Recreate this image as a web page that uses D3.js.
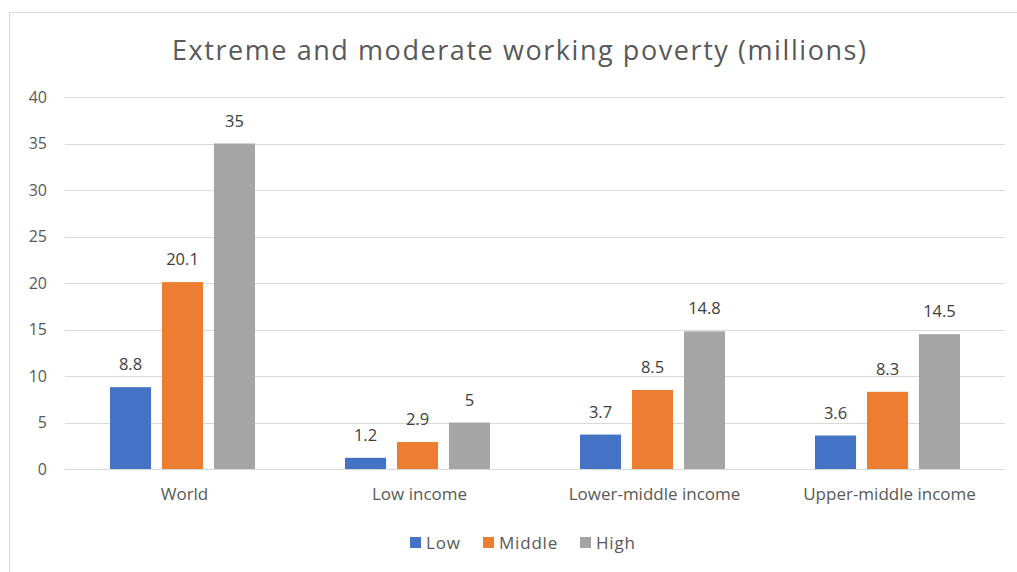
<!DOCTYPE html>
<html>
<head>
<meta charset="utf-8">
<script src="https://cdn.jsdelivr.net/npm/d3@7"></script>
<style>
  body { margin: 0; background: #fff; }
  text { font-family: "Open Sans", "Noto Sans", sans-serif; }
</style>
</head>
<body>
<div id="chart"></div>
<script>
// Data
var categories = ["World", "Low income", "Lower-middle income", "Upper-middle income"];
var seriesNames = ["Low", "Middle", "High"];
var lowValues = [8.8, 1.2, 3.7, 3.6];
var middleValues = [20.1, 2.9, 8.5, 8.3];
var highValues = [35, 5, 14.8, 14.5];
var yTicks = [0, 5, 10, 15, 20, 25, 30, 35, 40];
var colors = ["#4472c4", "#ed7d31", "#a5a5a5"];

var seriesValues = [lowValues, middleValues, highValues];

var W = 1017, H = 572;
var margin = {top: 97, right: 12, bottom: 103, left: 65};
var width = 1005 - margin.left;
var height = 469 - margin.top;

var svg = d3.select("#chart")
    .append("svg")
    .attr("width", W)
    .attr("height", H);

// chart border
svg.append("rect")
  .attr("x", 9.5)
  .attr("y", 12.5)
  .attr("width", W + 10)
  .attr("height", H)
  .attr("fill", "none")
  .attr("stroke", "#d9d9d9");

var g = svg.append("g")
    .attr("transform", `translate(${margin.left}, ${margin.top})`);

// Scales
var x0 = d3.scaleBand()
    .domain(categories)
    .range([0, width])
    .padding(0);

var groupPad = 45;
var x1 = d3.scaleBand()
    .domain(seriesNames)
    .range([groupPad, x0.bandwidth() - groupPad])
    .paddingInner(0.21);

var y = d3.scaleLinear()
    .domain([0, 40])
    .range([height, 0]);

// Gridlines
g.selectAll(".grid")
  .data(yTicks)
  .enter().append("line")
  .attr("x1", 0)
  .attr("x2", width)
  .attr("y1", function(d) { return Math.round(y(d)) + 0.5; })
  .attr("y2", function(d) { return Math.round(y(d)) + 0.5; })
  .attr("stroke", "#d9d9d9")
  .attr("stroke-width", 1);

// Y axis labels
g.selectAll(".ylab")
  .data(yTicks)
  .enter().append("text")
  .attr("x", -18)
  .attr("y", function(d) { return y(d); })
  .attr("dy", "0.35em")
  .attr("text-anchor", "end")
  .attr("fill", "#595959")
  .style("font-size", "16px")
  .text(function(d) { return d; });

// Bars
var rows = categories.map(function(c, i) {
  return seriesNames.map(function(s, j) {
    return {cat: c, series: s, value: seriesValues[j][i], color: colors[j]};
  });
});

var groups = g.selectAll(".group")
  .data(rows)
  .enter().append("g")
  .attr("transform", function(d, i) { return `translate(${x0(categories[i])}, 0)`; });

groups.selectAll("rect")
  .data(function(d) { return d; })
  .enter().append("rect")
  .attr("x", function(d) { return x1(d.series); })
  .attr("y", function(d) { return y(d.value); })
  .attr("width", x1.bandwidth())
  .attr("height", function(d) { return height - y(d.value); })
  .attr("fill", function(d) { return d.color; });

groups.selectAll(".val")
  .data(function(d) { return d; })
  .enter().append("text")
  .attr("x", function(d) { return x1(d.series) + x1.bandwidth() / 2; })
  .attr("y", function(d) { return y(d.value) - 17; })
  .attr("text-anchor", "middle")
  .attr("fill", "#404040")
  .style("font-size", "16.5px")
  .text(function(d) { return d.value; });

// X axis labels
g.selectAll(".xlab")
  .data(categories)
  .enter().append("text")
  .attr("x", function(d) { return x0(d) + x0.bandwidth() / 2 + 2; })
  .attr("y", height + 31)
  .attr("text-anchor", "middle")
  .attr("fill", "#595959")
  .style("font-size", "17px")
  .text(function(d) { return d; });

// Title
svg.append("text")
  .attr("x", 519)
  .attr("y", 60)
  .attr("text-anchor", "middle")
  .attr("fill", "#595959")
  .attr("textLength", 694)
  .style("font-size", "27px")
  .text("Extreme and moderate working poverty (millions)");

// Legend
var legendX = [410, 483, 580];
var legend = svg.selectAll(".legend")
  .data(seriesNames)
  .enter().append("g")
  .attr("transform", function(d, i) { return `translate(${legendX[i]}, 543)`; });

legend.append("rect")
  .attr("x", 0)
  .attr("y", -6)
  .attr("width", 11)
  .attr("height", 11)
  .attr("fill", function(d, i) { return colors[i]; });

legend.append("text")
  .attr("x", 16)
  .attr("y", 0)
  .attr("dy", "0.35em")
  .attr("fill", "#595959")
  .style("font-size", "17px")
  .style("letter-spacing", "0.8px")
  .text(function(d) { return d; });
</script>
</body>
</html>
